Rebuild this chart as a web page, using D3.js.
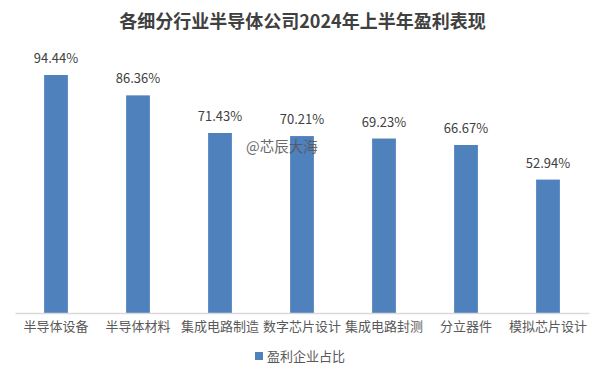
<!DOCTYPE html>
<html>
<head>
<meta charset="utf-8">
<script src="https://cdn.jsdelivr.net/npm/d3@7"></script>
<style>
  body { margin: 0; background: #fff; }
  svg { font-family: "Noto Sans CJK SC", "Microsoft YaHei", sans-serif; }
</style>
</head>
<body>
<svg id="drawing_region"></svg>
<script>
const categories = [ "半导体设备", "半导体材料", "集成电路制造", "数字芯片设计", "集成电路封测", "分立器件", "模拟芯片设计" ];
const values = [ 94.44, 86.36, 71.43, 70.21, 69.23, 66.67, 52.94 ];
const seriesName = "盈利企业占比";
const title = "各细分行业半导体公司2024年上半年盈利表现";

const data = categories.map( ( c, i ) => ({ label: c, value: values[i] }) );

const width = 605, height = 378;
const margin = { top: 61, right: 16, bottom: 65, left: 15 };
const inner_width = width - margin.left - margin.right;
const inner_height = height - margin.top - margin.bottom;

const svg = d3.select( '#drawing_region' )
    .attr( 'width', width )
    .attr( 'height', height );

svg.append( 'text' )
    .attr( 'x', width / 2 )
    .attr( 'y', 28 )
    .attr( 'text-anchor', 'middle' )
    .attr( 'font-size', 18 )
    .attr( 'font-weight', 'bold' )
    .attr( 'fill', '#404040' )
    .text( title );

const chart = svg.append( 'g' )
    .attr( 'transform', `translate(${margin.left}, ${margin.top})` );

const xscale = d3.scaleBand()
    .domain( categories )
    .range( [ 0, inner_width ] )
    .paddingInner( 0.71 )
    .paddingOuter( 0.355 );

const yscale = d3.scaleLinear()
    .domain( [ 0, 100 ] )
    .range( [ inner_height, 0 ] );

chart.selectAll( 'rect' )
    .data( data )
    .join( 'rect' )
    .attr( 'x', d => xscale( d.label ) )
    .attr( 'y', d => yscale( d.value ) )
    .attr( 'width', xscale.bandwidth() )
    .attr( 'height', d => inner_height - yscale( d.value ) )
    .attr( 'fill', '#4F81BD' );

chart.selectAll( 'text.val' )
    .data( data )
    .join( 'text' )
    .attr( 'class', 'val' )
    .attr( 'x', d => xscale( d.label ) + xscale.bandwidth() / 2 )
    .attr( 'y', d => yscale( d.value ) - 12 )
    .attr( 'text-anchor', 'middle' )
    .attr( 'font-size', 13 )
    .attr( 'fill', '#404040' )
    .text( d => d.value.toFixed( 2 ) + '%' );

const xaxis = d3.axisBottom( xscale ).tickSize( 0 ).tickPadding( 9 );
const xaxis_group = chart.append( 'g' )
    .attr( 'transform', `translate(0, ${inner_height})` )
    .call( xaxis );
xaxis_group.select( '.domain' ).attr( 'stroke', '#d9d9d9' ).attr( 'stroke-width', 1.5 );
xaxis_group.selectAll( 'text' )
    .attr( 'font-size', 13 )
    .attr( 'font-family', '"Noto Sans CJK SC", sans-serif' )
    .attr( 'fill', '#595959' );

// watermark
svg.append( 'text' )
    .attr( 'x', 246 )
    .attr( 'y', 152 )
    .attr( 'font-size', 14.5 )
    .attr( 'fill', '#595959' )
    .attr( 'opacity', 0.9 )
    .text( '@芯辰大海' );

// legend
const legend = svg.append( 'g' ).attr( 'transform', 'translate(255, 356)' );
legend.append( 'rect' )
    .attr( 'x', 0 ).attr( 'y', -4 )
    .attr( 'width', 8 ).attr( 'height', 8 )
    .attr( 'fill', '#4F81BD' );
legend.append( 'text' )
    .attr( 'x', 12 ).attr( 'y', 0 )
    .attr( 'dy', '0.35em' )
    .attr( 'font-size', 13 )
    .attr( 'fill', '#595959' )
    .text( seriesName );
</script>
</body>
</html>
